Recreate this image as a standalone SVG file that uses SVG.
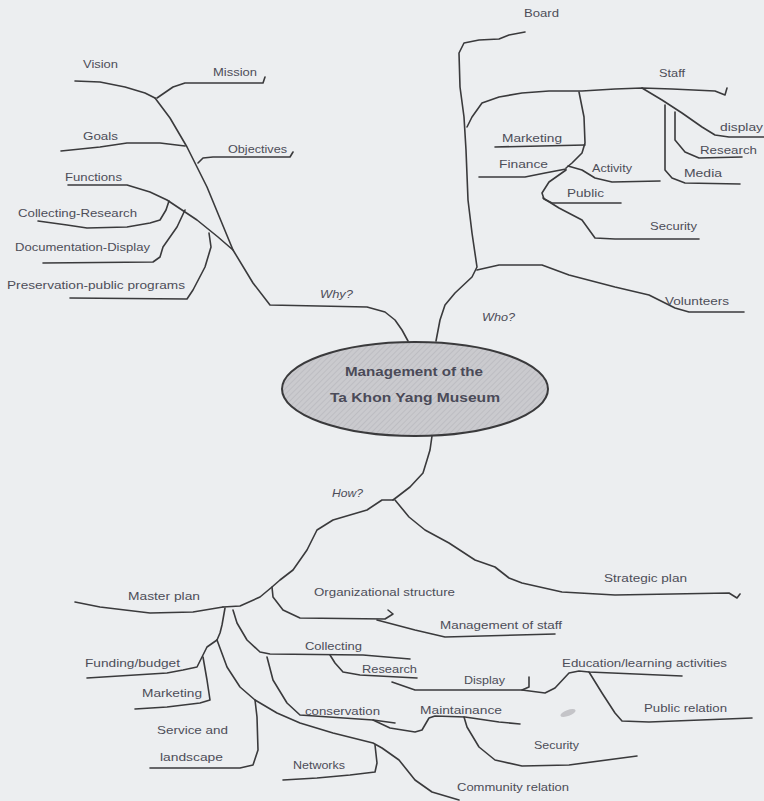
<svg xmlns="http://www.w3.org/2000/svg" width="764" height="801" viewBox="0 0 764 801">
<defs>
<style>
.ln{fill:none;stroke:#3a3a3c;stroke-width:1.6;stroke-linejoin:round;stroke-linecap:round}
.t{font-family:"Liberation Sans",Arial,sans-serif;font-size:10.5px;fill:#4d4d58}
.q{font-style:italic}
.c{font-family:"Liberation Sans",Arial,sans-serif;font-size:13px;font-weight:bold;fill:#4a4a58}
</style>
<pattern id="hatch" width="4" height="4" patternUnits="userSpaceOnUse" patternTransform="rotate(45)">
<rect width="4" height="4" fill="#cacace"/>
<line x1="0" y1="0" x2="0" y2="4" stroke="#b9b9be" stroke-width="1.5"/>
</pattern>
</defs>
<rect width="764" height="801" fill="#eceef0"/>
<ellipse cx="568" cy="713" rx="8" ry="3" fill="#c4c4c8" transform="rotate(-20 568 713)"/>
<g id="connectors">
<path class="ln" d="M155,98 L170,118 L187,147 L207,187 L233,250 L253,283 L270,305 L367,307 L385,312 L395,320 L402,330 L408,341"/>
<path class="ln" d="M75,81 L100,82 L125,87 L145,93 L155,98"/>
<path class="ln" d="M157,98 L173,87 L185,83 L263,83 L265,77"/>
<path class="ln" d="M61,151 L100,147 L127,143 L160,143 L185,146"/>
<path class="ln" d="M198,163 L203,158 L213,157 L290,157 L293,152"/>
<path class="ln" d="M68,185 L127,185 L150,192 L167,200 L197,220 L218,237 L233,250"/>
<path class="ln" d="M38,221 L67,225 L87,228 L127,227 L150,223 L160,220 L166,210 L169,201"/>
<path class="ln" d="M43,263 L153,262 L160,257 L163,247 L170,237 L177,227 L185,210"/>
<path class="ln" d="M70,298 L187,299 L193,290 L205,267 L211,247 L209,233"/>
<path class="ln" d="M525,32 L509,35 L499,39 L479,40 L464,43 L459,53 L460,87 L464,117 L466,150 L468,200 L472,233 L477,267 L472,277 L455,293 L445,305 L440,320 L436,341"/>
<path class="ln" d="M467,127 L472,117 L482,103 L499,97 L522,93 L549,91 L582,91 L615,89 L642,88 L672,89 L715,91 L725,95 L727,88"/>
<path class="ln" d="M579,92 L584,117 L585,143 L582,153 L572,163 L566,168"/>
<path class="ln" d="M495,147 L585,145"/>
<path class="ln" d="M479,177 L525,177 L545,173 L566,169"/>
<path class="ln" d="M568,166 L582,170 L595,178 L612,182 L660,181"/>
<path class="ln" d="M566,170 L549,182 L542,193 L544,199 L552,203 L621,203"/>
<path class="ln" d="M543,198 L559,208 L582,220 L595,238 L615,239 L699,239"/>
<path class="ln" d="M642,88 L662,100 L682,113 L702,127 L715,135 L729,137 L764,137"/>
<path class="ln" d="M675,112 L675,140 L685,152 L699,158 L742,157"/>
<path class="ln" d="M665,105 L665,170 L672,178 L685,183 L740,184"/>
<path class="ln" d="M477,270 L499,265 L542,265 L569,275 L615,287 L649,295 L675,308 L689,312 L744,312"/>
<path class="ln" d="M432,436 L430,450 L427,460 L423,473 L410,487 L397,497 L393,500"/>
<path class="ln" d="M395,500 L409,517 L425,530 L449,543 L475,560 L495,567 L509,578 L522,583 L562,592 L615,595 L729,593 L737,598 L740,594"/>
<path class="ln" d="M393,500 L382,500 L367,510 L333,520 L317,530 L307,550 L293,570 L280,580 L272,587 L260,597 L240,606 L223,607"/>
<path class="ln" d="M75,602 L100,607 L150,613 L193,612 L223,607"/>
<path class="ln" d="M272,587 L273,597 L283,610 L300,618 L385,619 L393,614 L388,610"/>
<path class="ln" d="M377,620 L415,630 L445,637 L555,634"/>
<path class="ln" d="M233,610 L237,623 L247,640 L260,652 L270,654 L363,655 L410,659"/>
<path class="ln" d="M330,655 L335,663 L343,672 L360,675 L417,678"/>
<path class="ln" d="M392,682 L415,690 L522,690 L529,687 L529,677"/>
<path class="ln" d="M522,690 L545,693 L555,688 L569,673 L579,671 L589,672 L682,676"/>
<path class="ln" d="M589,672 L602,693 L615,713 L622,721 L649,722 L752,718"/>
<path class="ln" d="M267,657 L273,680 L287,703 L300,715 L373,720 L395,723"/>
<path class="ln" d="M373,720 L390,728 L415,732 L422,730 L429,718 L435,716 L465,717 L499,722 L520,724"/>
<path class="ln" d="M464,717 L467,727 L479,747 L495,760 L522,766 L569,765 L637,756"/>
<path class="ln" d="M225,608 L222,625 L220,633 L217,640"/>
<path class="ln" d="M217,640 L207,647 L202,657 L197,667 L183,670 L167,673 L87,678"/>
<path class="ln" d="M203,657 L207,680 L210,700 L200,703 L167,707 L135,709"/>
<path class="ln" d="M217,640 L227,667 L240,687 L255,700 L277,713 L300,723 L333,733 L373,743 L382,748 L399,760 L415,780 L432,792 L459,800"/>
<path class="ln" d="M255,700 L257,717 L258,750 L253,765 L240,768 L150,768"/>
<path class="ln" d="M375,745 L377,763 L375,772 L350,775 L317,778 L283,780"/>
</g>
<g id="center">
<ellipse cx="415" cy="389" rx="133" ry="47" fill="url(#hatch)" stroke="#3a3a3c" stroke-width="2"/>
<text class="c" x="345" y="376" textLength="138" lengthAdjust="spacingAndGlyphs">Management of the</text>
<text class="c" x="330" y="402" textLength="170" lengthAdjust="spacingAndGlyphs">Ta Khon Yang Museum</text>
</g>
<g id="why"><text class="t q" x="320" y="298" textLength="33" lengthAdjust="spacingAndGlyphs">Why?</text></g>
<g id="who"><text class="t q" x="482" y="321" textLength="33" lengthAdjust="spacingAndGlyphs">Who?</text></g>
<g id="how"><text class="t q" x="332" y="497" textLength="31" lengthAdjust="spacingAndGlyphs">How?</text></g>
<g id="vision"><text class="t" x="83" y="68" textLength="35" lengthAdjust="spacingAndGlyphs">Vision</text></g>
<g id="mission"><text class="t" x="213" y="76" textLength="44" lengthAdjust="spacingAndGlyphs">Mission</text></g>
<g id="goals"><text class="t" x="83" y="140" textLength="35" lengthAdjust="spacingAndGlyphs">Goals</text></g>
<g id="objectives"><text class="t" x="228" y="153" textLength="59" lengthAdjust="spacingAndGlyphs">Objectives</text></g>
<g id="functions"><text class="t" x="65" y="181" textLength="57" lengthAdjust="spacingAndGlyphs">Functions</text></g>
<g id="collecting-research"><text class="t" x="18" y="217" textLength="119" lengthAdjust="spacingAndGlyphs">Collecting-Research</text></g>
<g id="documentation-display"><text class="t" x="15" y="251" textLength="135" lengthAdjust="spacingAndGlyphs">Documentation-Display</text></g>
<g id="preservation"><text class="t" x="7" y="289" textLength="178" lengthAdjust="spacingAndGlyphs">Preservation-public programs</text></g>
<g id="board"><text class="t" x="524" y="17" textLength="35" lengthAdjust="spacingAndGlyphs">Board</text></g>
<g id="staff"><text class="t" x="659" y="77" textLength="26" lengthAdjust="spacingAndGlyphs">Staff</text></g>
<g id="marketing-top"><text class="t" x="502" y="142" textLength="60" lengthAdjust="spacingAndGlyphs">Marketing</text></g>
<g id="finance"><text class="t" x="499" y="168" textLength="49" lengthAdjust="spacingAndGlyphs">Finance</text></g>
<g id="activity"><text class="t" x="592" y="172" textLength="40" lengthAdjust="spacingAndGlyphs">Activity</text></g>
<g id="public"><text class="t" x="567" y="197" textLength="37" lengthAdjust="spacingAndGlyphs">Public</text></g>
<g id="security-top"><text class="t" x="650" y="230" textLength="47" lengthAdjust="spacingAndGlyphs">Security</text></g>
<g id="display-top"><text class="t" x="720" y="131" textLength="43" lengthAdjust="spacingAndGlyphs">display</text></g>
<g id="research-top"><text class="t" x="700" y="154" textLength="57" lengthAdjust="spacingAndGlyphs">Research</text></g>
<g id="media"><text class="t" x="684" y="177" textLength="38" lengthAdjust="spacingAndGlyphs">Media</text></g>
<g id="volunteers"><text class="t" x="665" y="305" textLength="64" lengthAdjust="spacingAndGlyphs">Volunteers</text></g>
<g id="master-plan"><text class="t" x="128" y="600" textLength="72" lengthAdjust="spacingAndGlyphs">Master plan</text></g>
<g id="org-structure"><text class="t" x="314" y="596" textLength="141" lengthAdjust="spacingAndGlyphs">Organizational structure</text></g>
<g id="mgmt-staff"><text class="t" x="440" y="629" textLength="122" lengthAdjust="spacingAndGlyphs">Management of staff</text></g>
<g id="strategic-plan"><text class="t" x="604" y="582" textLength="83" lengthAdjust="spacingAndGlyphs">Strategic plan</text></g>
<g id="collecting"><text class="t" x="305" y="650" textLength="57" lengthAdjust="spacingAndGlyphs">Collecting</text></g>
<g id="research-bottom"><text class="t" x="362" y="673" textLength="55" lengthAdjust="spacingAndGlyphs">Research</text></g>
<g id="display-bottom"><text class="t" x="464" y="684" textLength="41" lengthAdjust="spacingAndGlyphs">Display</text></g>
<g id="education"><text class="t" x="562" y="667" textLength="165" lengthAdjust="spacingAndGlyphs">Education/learning activities</text></g>
<g id="public-relation"><text class="t" x="644" y="712" textLength="83" lengthAdjust="spacingAndGlyphs">Public relation</text></g>
<g id="funding"><text class="t" x="85" y="667" textLength="95" lengthAdjust="spacingAndGlyphs">Funding/budget</text></g>
<g id="marketing-bottom"><text class="t" x="142" y="697" textLength="60" lengthAdjust="spacingAndGlyphs">Marketing</text></g>
<g id="service"><text class="t" x="157" y="734" textLength="71" lengthAdjust="spacingAndGlyphs">Service and</text><text class="t" x="160" y="761" textLength="63" lengthAdjust="spacingAndGlyphs">landscape</text></g>
<g id="conservation"><text class="t" x="305" y="715" textLength="75" lengthAdjust="spacingAndGlyphs">conservation</text></g>
<g id="maintainance"><text class="t" x="420" y="714" textLength="82" lengthAdjust="spacingAndGlyphs">Maintainance</text></g>
<g id="security-bottom"><text class="t" x="534" y="749" textLength="45" lengthAdjust="spacingAndGlyphs">Security</text></g>
<g id="networks"><text class="t" x="293" y="769" textLength="52" lengthAdjust="spacingAndGlyphs">Networks</text></g>
<g id="community"><text class="t" x="457" y="791" textLength="112" lengthAdjust="spacingAndGlyphs">Community relation</text></g>
</svg>
